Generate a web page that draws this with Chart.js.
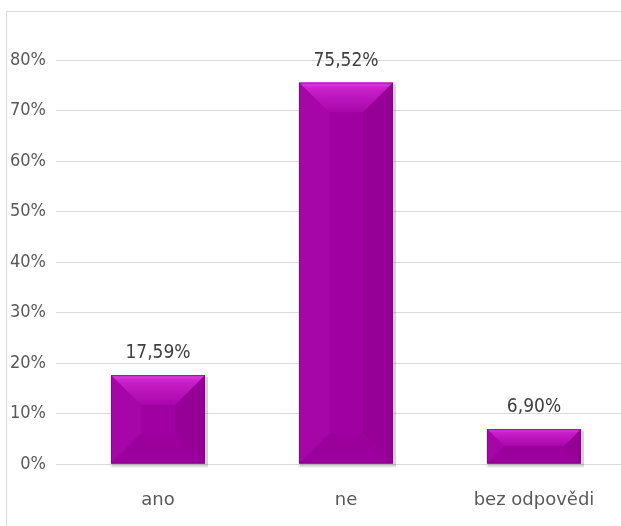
<!DOCTYPE html>
<html>
<head>
<meta charset="utf-8">
<script src="https://cdn.jsdelivr.net/npm/chart.js@4/dist/chart.umd.min.js"></script>
<style>
html,body{margin:0;padding:0;background:#fff;overflow:hidden;width:621px;height:526px;}
#frame{position:absolute;left:6px;top:11px;width:700px;height:600px;border:1px solid #d9d9d9;box-sizing:border-box;}
#wrap{position:absolute;left:0;top:0;width:640px;height:526px;}
</style>
</head>
<body>
<div id="frame"></div>
<div id="wrap"><canvas id="c" width="640" height="526"></canvas></div>
<script>
const categories = ["ano", "ne", "bez odpovědi"];
const values = [0.1759, 0.7552, 0.0690];
const valueLabels = ["17,59%", "75,52%", "6,90%"];
const yTicks = [0, 0.1, 0.2, 0.3, 0.4, 0.5, 0.6, 0.7, 0.8];

const FONT_C = "'DejaVu Sans Condensed', 'DejaVu Sans', sans-serif";
const FONT_N = "'DejaVu Sans', sans-serif";

const bevelPlugin = {
  id: 'bevel',
  afterDatasetsDraw(chart) {
    const ctx = chart.ctx;
    const meta = chart.getDatasetMeta(0);
    meta.data.forEach((bar) => {
      const p = bar.getProps(['x', 'y', 'base', 'width'], true);
      const l = p.x - p.width / 2, r = p.x + p.width / 2;
      const t = Math.min(p.y, p.base), b = Math.max(p.y, p.base);
      const w = r - l, h = b - t;
      const d = Math.min(w / 2, h / 2, 30);
      ctx.save();
      // soft shadow
      ctx.fillStyle = 'rgba(0,0,0,0.06)';
      ctx.fillRect(l - 1, t + 1, w + 4, h + 3);
      ctx.fillStyle = 'rgba(0,0,0,0.12)';
      ctx.fillRect(l + 1, t + 2, w + 2, h + 1);
      // base
      ctx.fillStyle = '#a000a2';
      ctx.fillRect(l, t, w, h);
      const poly = (pts, fill) => {
        ctx.beginPath();
        ctx.moveTo(pts[0][0], pts[0][1]);
        for (let k = 1; k < pts.length; k++) ctx.lineTo(pts[k][0], pts[k][1]);
        ctx.closePath();
        ctx.fillStyle = fill;
        ctx.fill();
      };
      // top face
      const gt = ctx.createLinearGradient(0, t, 0, t + d);
      gt.addColorStop(0, '#e040e2');
      gt.addColorStop(0.2, '#c820ca');
      gt.addColorStop(1, '#a706a9');
      poly([[l, t], [r, t], [r - d, t + d], [l + d, t + d]], gt);
      // left face
      poly([[l, t], [l + d, t + d], [l + d, b - d], [l, b]], '#a606a8');
      // right face
      poly([[r, t], [r, b], [r - d, b - d], [r - d, t + d]], '#970097');
      // bottom face
      poly([[l, b], [l + d, b - d], [r - d, b - d], [r, b]], '#9b009c');
      // center
      ctx.fillStyle = '#a000a2';
      ctx.fillRect(l + d, t + d, w - 2 * d, h - 2 * d);
      // edges
      ctx.strokeStyle = 'rgba(130,0,130,0.7)';
      ctx.lineWidth = 1;
      ctx.strokeRect(l + 0.5, t + 0.5, w - 1, h - 1);
      ctx.restore();
    });
  }
};

const labelPlugin = {
  id: 'valLabels',
  afterDatasetsDraw(chart) {
    const ctx = chart.ctx;
    const meta = chart.getDatasetMeta(0);
    ctx.save();
    ctx.font = '19px ' + FONT_C;
    ctx.fillStyle = '#404040';
    ctx.textAlign = 'center';
    ctx.textBaseline = 'middle';
    meta.data.forEach((bar, i) => {
      ctx.fillText(valueLabels[i], bar.x, bar.y - 22);
    });
    ctx.restore();
  }
};

new Chart(document.getElementById('c'), {
  type: 'bar',
  data: {
    labels: categories,
    datasets: [{
      data: values,
      backgroundColor: 'rgba(0,0,0,0)',
      borderWidth: 0,
      categoryPercentage: 1.0,
      barPercentage: 0.5
    }]
  },
  options: {
    responsive: false,
    animation: false,
    devicePixelRatio: 1,
    layout: { padding: { top: 60, right: 12, left: 0, bottom: 0 } },
    plugins: { legend: { display: false }, tooltip: { enabled: false } },
    scales: {
      y: {
        min: 0, max: 0.8,
        afterFit(scale) { scale.width = 64; },
        afterBuildTicks(scale) { scale.ticks = yTicks.map(v => ({ value: v })); },
        ticks: {
          callback: v => Math.round(v * 100) + '%',
          font: { family: FONT_C, size: 18 },
          color: '#595959',
          padding: 10
        },
        grid: { color: '#d9d9d9', lineWidth: 1, tickLength: 8, tickColor: '#d9d9d9' },
        border: { display: false }
      },
      x: {
        afterFit(scale) { scale.height = 62; },
        ticks: { font: { family: FONT_N, size: 18 }, color: '#595959', padding: 18 },
        grid: { display: false },
        border: { display: true, color: '#d9d9d9' }
      }
    }
  },
  plugins: [bevelPlugin, labelPlugin]
});
</script>
</body>
</html>
